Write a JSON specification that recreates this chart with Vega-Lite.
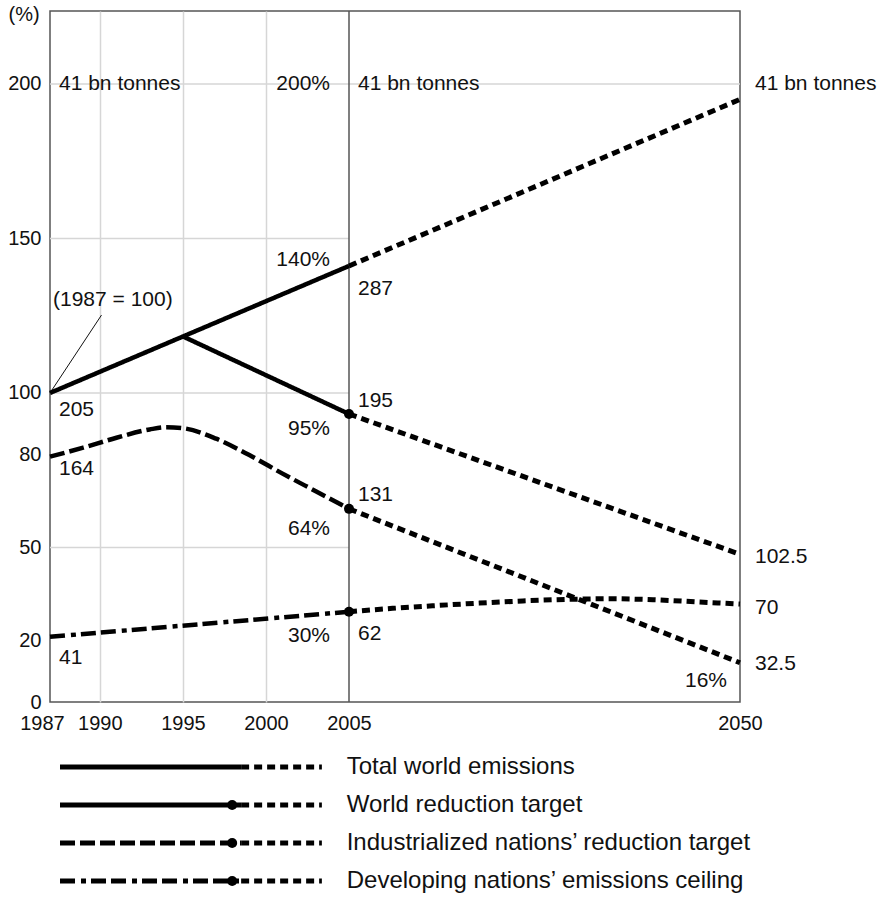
{
  "$schema": "https://vega.github.io/schema/vega-lite/v6.json",
  "background": "white",
  "padding": {"left": 6, "top": 3, "right": 5, "bottom": 0},
  "spacing": 14,
  "config": {
    "font": "Liberation Sans",
    "view": {"stroke": null},
    "axis": {"labelFont": "Liberation Sans", "titleFont": "Liberation Sans", "labelColor": "#111", "titleColor": "#111", "titleFontWeight": "normal"}
  },
  "resolve": {"scale": {"x": "independent", "y": "independent", "strokeDash": "independent"}},
  "datasets": {
    "gridlines": [
      {"value": 50, "year": 1987, "year_end": 2005},
      {"value": 100, "year": 1987, "year_end": 2005},
      {"value": 150, "year": 1987, "year_end": 2005},
      {"value": 200, "year": 1987, "year_end": 2050}
    ],
    "divider": [{"year": 2005}],
    "leader": [
      {"year": 1987, "value": 100},
      {"year": 1990.1, "value": 125.2}
    ],
    "note": [{"text": "(1987 = 100)", "year": 1987, "value": 130}],
    "series": [
      {"series": "Total world emissions", "phase": "to 2005", "year": 1987, "value": 100},
      {"series": "Total world emissions", "phase": "to 2005", "year": 2005, "value": 141.1},
      {"series": "Total world emissions", "phase": "2005-2050", "year": 2005, "value": 141.1},
      {"series": "Total world emissions", "phase": "2005-2050", "year": 2050, "value": 195},
      {"series": "World reduction target", "phase": "to 2005", "year": 1995, "value": 118.3},
      {"series": "World reduction target", "phase": "to 2005", "year": 2005, "value": 93.2},
      {"series": "World reduction target", "phase": "2005-2050", "year": 2005, "value": 93.2},
      {"series": "World reduction target", "phase": "2005-2050", "year": 2050, "value": 47.8},
      {"series": "Industrialized nations’ reduction target", "phase": "to 2005", "year": 1987, "value": 79.4},
      {"series": "Industrialized nations’ reduction target", "phase": "to 2005", "year": 1989, "value": 82.3},
      {"series": "Industrialized nations’ reduction target", "phase": "to 2005", "year": 1991, "value": 85.5},
      {"series": "Industrialized nations’ reduction target", "phase": "to 2005", "year": 1993, "value": 88.2},
      {"series": "Industrialized nations’ reduction target", "phase": "to 2005", "year": 1994, "value": 88.9},
      {"series": "Industrialized nations’ reduction target", "phase": "to 2005", "year": 1995, "value": 88.6},
      {"series": "Industrialized nations’ reduction target", "phase": "to 2005", "year": 1997, "value": 85.2},
      {"series": "Industrialized nations’ reduction target", "phase": "to 2005", "year": 1999, "value": 79.9},
      {"series": "Industrialized nations’ reduction target", "phase": "to 2005", "year": 2001, "value": 73.9},
      {"series": "Industrialized nations’ reduction target", "phase": "to 2005", "year": 2003, "value": 68.2},
      {"series": "Industrialized nations’ reduction target", "phase": "to 2005", "year": 2005, "value": 62.5},
      {"series": "Industrialized nations’ reduction target", "phase": "2005-2050", "year": 2005, "value": 62.5},
      {"series": "Industrialized nations’ reduction target", "phase": "2005-2050", "year": 2050, "value": 12.7},
      {"series": "Developing nations’ emissions ceiling", "phase": "to 2005", "year": 1987, "value": 21.1},
      {"series": "Developing nations’ emissions ceiling", "phase": "to 2005", "year": 2005, "value": 29.2},
      {"series": "Developing nations’ emissions ceiling", "phase": "2005-2050", "year": 2005, "value": 29.2},
      {"series": "Developing nations’ emissions ceiling", "phase": "2005-2050", "year": 2010, "value": 30.3},
      {"series": "Developing nations’ emissions ceiling", "phase": "2005-2050", "year": 2015, "value": 31.2},
      {"series": "Developing nations’ emissions ceiling", "phase": "2005-2050", "year": 2020, "value": 32.0},
      {"series": "Developing nations’ emissions ceiling", "phase": "2005-2050", "year": 2025, "value": 32.7},
      {"series": "Developing nations’ emissions ceiling", "phase": "2005-2050", "year": 2030, "value": 33.2},
      {"series": "Developing nations’ emissions ceiling", "phase": "2005-2050", "year": 2035, "value": 33.4},
      {"series": "Developing nations’ emissions ceiling", "phase": "2005-2050", "year": 2040, "value": 33.1},
      {"series": "Developing nations’ emissions ceiling", "phase": "2005-2050", "year": 2045, "value": 32.4},
      {"series": "Developing nations’ emissions ceiling", "phase": "2005-2050", "year": 2050, "value": 31.7}
    ],
    "labels": [
      {"text": "41 bn tonnes", "year": 1987, "value": 200, "side": "after"},
      {"text": "200%", "year": 2005, "value": 200, "side": "before"},
      {"text": "41 bn tonnes", "year": 2005, "value": 200, "side": "after"},
      {"text": "41 bn tonnes", "year": 2050, "value": 200, "side": "after"},
      {"text": "140%", "year": 2005, "value": 143, "side": "before"},
      {"text": "287", "year": 2005, "value": 133.7, "side": "after"},
      {"text": "205", "year": 1987, "value": 94.5, "side": "after"},
      {"text": "195", "year": 2005, "value": 97.5, "side": "after"},
      {"text": "95%", "year": 2005, "value": 88.3, "side": "before"},
      {"text": "164", "year": 1987, "value": 75.3, "side": "after"},
      {"text": "131", "year": 2005, "value": 67, "side": "after"},
      {"text": "64%", "year": 2005, "value": 56, "side": "before"},
      {"text": "102.5", "year": 2050, "value": 47, "side": "after"},
      {"text": "70", "year": 2050, "value": 30.5, "side": "after"},
      {"text": "30%", "year": 2005, "value": 21.4, "side": "before"},
      {"text": "62", "year": 2005, "value": 22, "side": "after"},
      {"text": "41", "year": 1987, "value": 14.2, "side": "after"},
      {"text": "32.5", "year": 2050, "value": 12.3, "side": "after"},
      {"text": "16%", "year": 2050, "value": 6.8, "side": "before"}
    ],
    "legend": [
      {"series": "Total world emissions"},
      {"series": "World reduction target"},
      {"series": "Industrialized nations’ reduction target"},
      {"series": "Developing nations’ emissions ceiling"}
    ]
  },
  "vconcat": [
    {
      "width": 690,
      "height": 691,
      "view": {"stroke": "#555", "strokeWidth": 1.5},
      "layer": [
        {
          "data": {"name": "gridlines"},
          "mark": {"type": "rule", "color": "#d6d6d6", "strokeWidth": 1.5},
          "encoding": {
            "x": {
              "field": "year", "type": "quantitative",
              "scale": {"domain": [1987, 2005, 2050], "range": [0, 299, 690], "nice": false, "zero": false},
              "axis": {
                "values": [1987, 1990, 1995, 2000, 2005, 2050],
                "format": "d", "title": null, "ticks": false, "domain": false,
                "grid": true, "gridColor": "#d6d6d6", "gridWidth": 1.5,
                "gridOpacity": {"condition": {"test": "datum.value == 1987 || datum.value == 2005 || datum.value == 2050", "value": 0}, "value": 1},
                "labelFontSize": 20, "labelPadding": 11, "labelFlush": false,
                "labelOffset": {"condition": {"test": "datum.value == 1987", "value": -8}, "value": 0}
              }
            },
            "x2": {"field": "year_end"},
            "y": {
              "field": "value", "type": "quantitative",
              "scale": {"domain": [0, 223.6], "nice": false},
              "axis": {
                "values": [0, 20, 50, 80, 100, 150, 200],
                "title": "(%)", "titleAngle": 0, "titleAlign": "left", "titleBaseline": "middle",
                "titleX": -42, "titleY": 3, "titleFontSize": 20,
                "ticks": false, "domain": false, "grid": false,
                "labelFontSize": 20, "labelPadding": 9, "labelFlush": false
              }
            }
          }
        },
        {
          "data": {"name": "divider"},
          "mark": {"type": "rule", "color": "#555", "strokeWidth": 1.5},
          "encoding": {"x": {"field": "year", "type": "quantitative"}}
        },
        {
          "data": {"name": "leader"},
          "mark": {"type": "line", "color": "#111", "strokeWidth": 1},
          "encoding": {
            "x": {"field": "year", "type": "quantitative"},
            "y": {"field": "value", "type": "quantitative"}
          }
        },
        {
          "data": {"name": "note"},
          "mark": {"type": "text", "align": "left", "baseline": "middle", "dx": 3, "fontSize": 21, "color": "#111"},
          "encoding": {
            "x": {"field": "year", "type": "quantitative"},
            "y": {"field": "value", "type": "quantitative"},
            "text": {"field": "text"}
          }
        },
        {
          "data": {"name": "series"},
          "transform": [{"filter": "datum.phase == 'to 2005'"}],
          "mark": {"type": "line", "color": "black", "strokeWidth": 4.5, "interpolate": "monotone"},
          "encoding": {
            "x": {"field": "year", "type": "quantitative"},
            "y": {"field": "value", "type": "quantitative"},
            "detail": {"field": "series"},
            "order": {"field": "year"},
            "strokeDash": {
              "field": "series", "type": "nominal",
              "scale": {
                "domain": ["Total world emissions", "World reduction target", "Industrialized nations’ reduction target", "Developing nations’ emissions ceiling"],
                "range": [[1, 0], [1, 0], [15, 5], [15, 6, 5, 5, 15, 5]]
              },
              "legend": null
            }
          }
        },
        {
          "data": {"name": "series"},
          "transform": [{"filter": "datum.phase == '2005-2050'"}],
          "mark": {"type": "line", "color": "black", "strokeWidth": 5, "strokeDash": [8, 5], "interpolate": "monotone"},
          "encoding": {
            "x": {"field": "year", "type": "quantitative"},
            "y": {"field": "value", "type": "quantitative"},
            "detail": {"field": "series"},
            "order": {"field": "year"}
          }
        },
        {
          "data": {"name": "series"},
          "transform": [{"filter": "datum.phase == 'to 2005' && datum.year == 2005 && datum.series != 'Total world emissions'"}],
          "mark": {"type": "point", "filled": true, "color": "black", "opacity": 1, "size": 100},
          "encoding": {
            "x": {"field": "year", "type": "quantitative"},
            "y": {"field": "value", "type": "quantitative"}
          }
        },
        {
          "data": {"name": "labels"},
          "transform": [{"filter": "datum.side == 'after' && datum.year != 2050"}],
          "mark": {"type": "text", "align": "left", "baseline": "middle", "dx": 9, "fontSize": 21, "color": "#111"},
          "encoding": {
            "x": {"field": "year", "type": "quantitative"},
            "y": {"field": "value", "type": "quantitative"},
            "text": {"field": "text"}
          }
        },
        {
          "data": {"name": "labels"},
          "transform": [{"filter": "datum.side == 'after' && datum.year == 2050"}],
          "mark": {"type": "text", "align": "left", "baseline": "middle", "dx": 15, "fontSize": 21, "color": "#111"},
          "encoding": {
            "x": {"field": "year", "type": "quantitative"},
            "y": {"field": "value", "type": "quantitative"},
            "text": {"field": "text"}
          }
        },
        {
          "data": {"name": "labels"},
          "transform": [{"filter": "datum.side == 'before' && datum.year != 2050"}],
          "mark": {"type": "text", "align": "right", "baseline": "middle", "dx": -19, "fontSize": 21, "color": "#111"},
          "encoding": {
            "x": {"field": "year", "type": "quantitative"},
            "y": {"field": "value", "type": "quantitative"},
            "text": {"field": "text"}
          }
        },
        {
          "data": {"name": "labels"},
          "transform": [{"filter": "datum.side == 'before' && datum.year == 2050"}],
          "mark": {"type": "text", "align": "right", "baseline": "middle", "dx": -13, "fontSize": 21, "color": "#111"},
          "encoding": {
            "x": {"field": "year", "type": "quantitative"},
            "y": {"field": "value", "type": "quantitative"},
            "text": {"field": "text"}
          }
        }
      ]
    },
    {
      "width": 690,
      "height": 152,
      "data": {"name": "legend"},
      "layer": [
        {
          "mark": {"type": "rule", "color": "black", "strokeWidth": 5},
          "encoding": {
            "x": {"datum": 1.45, "type": "quantitative", "scale": {"domain": [0, 100], "nice": false}, "axis": null},
            "x2": {"datum": 27.7},
            "y": {"field": "series", "type": "nominal", "sort": null, "scale": {"type": "point", "padding": 0.5}, "axis": null},
            "strokeDash": {
              "field": "series", "type": "nominal",
              "scale": {
                "domain": ["Total world emissions", "World reduction target", "Industrialized nations’ reduction target", "Developing nations’ emissions ceiling"],
                "range": [[1, 0], [1, 0], [15, 5], [15, 6, 5, 5, 15, 5]]
              },
              "legend": null
            }
          }
        },
        {
          "mark": {"type": "rule", "color": "black", "strokeWidth": 5, "strokeDash": [8, 5]},
          "encoding": {
            "x": {"datum": 27.7, "type": "quantitative"},
            "x2": {"datum": 39.4},
            "y": {"field": "series", "type": "nominal", "sort": null}
          }
        },
        {
          "transform": [{"filter": "datum.series != 'Total world emissions'"}],
          "mark": {"type": "point", "filled": true, "color": "black", "opacity": 1, "size": 100},
          "encoding": {
            "x": {"datum": 26.4, "type": "quantitative"},
            "y": {"field": "series", "type": "nominal", "sort": null}
          }
        },
        {
          "mark": {"type": "text", "align": "left", "baseline": "middle", "fontSize": 24, "color": "#111"},
          "encoding": {
            "x": {"datum": 43, "type": "quantitative"},
            "y": {"field": "series", "type": "nominal", "sort": null},
            "text": {"field": "series"}
          }
        }
      ]
    }
  ]
}
